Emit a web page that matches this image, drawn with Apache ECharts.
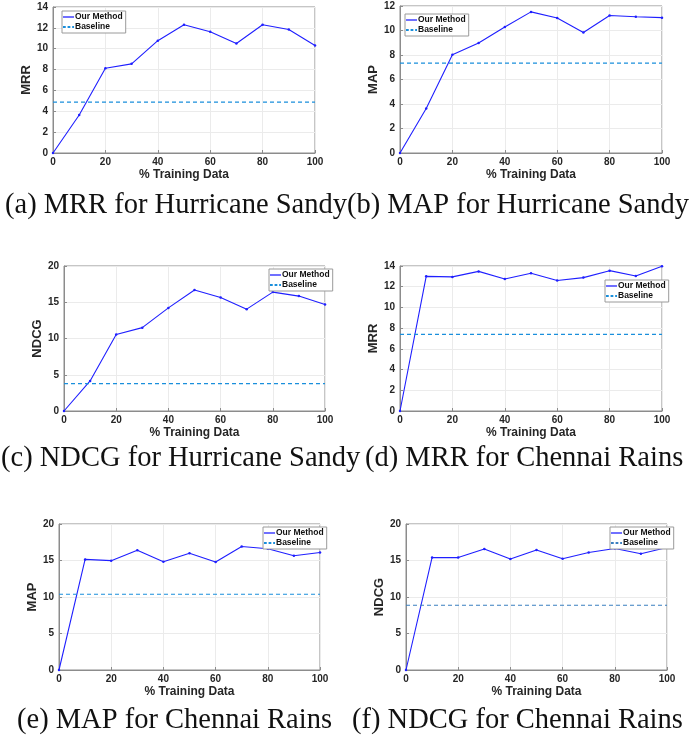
<!DOCTYPE html>
<html>
<head>
<meta charset="utf-8">
<script src="https://cdn.jsdelivr.net/npm/echarts@6/dist/echarts.min.js"></script>
<style>
  html, body { margin: 0; padding: 0; background: #fff; }
</style>
</head>
<body>
<div id="chart" style="width: 694px; height: 740px;"></div>
<script>
  // % training data
  var xData = [0, 10, 20, 30, 40, 50, 60, 70, 80, 90, 100]

  // Hurricane Sandy
  var sandyMRR = [0, 3.64, 8.13, 8.55, 10.77, 12.3, 11.62, 10.5, 12.3, 11.85, 10.3]
  var sandyMAP = [0, 3.64, 8.02, 8.98, 10.28, 11.52, 11.02, 9.84, 11.22, 11.12, 11.05]
  var sandyNDCG = [0, 4.15, 10.55, 11.5, 14.22, 16.7, 15.65, 14.05, 16.4, 15.85, 14.7]
  var sandyBase = [4.88, 7.34, 3.78]

  // Chennai Rains
  var chennaiMRR = [0, 13.0, 12.95, 13.48, 12.75, 13.3, 12.6, 12.88, 13.55, 13.04, 13.97]
  var chennaiMAP = [0, 15.15, 14.98, 16.4, 14.82, 15.98, 14.8, 16.92, 16.62, 15.66, 16.1]
  var chennaiNDCG = [0, 15.42, 15.4, 16.58, 15.2, 16.44, 15.25, 16.1, 16.65, 15.92, 16.78]
  var chennaiBase = [7.4, 10.37, 8.87]

  var captions = [
    '(a) MRR for Hurricane Sandy', '(b) MAP for Hurricane Sandy',
    '(c) NDCG for Hurricane Sandy', '(d) MRR for Chennai Rains',
    '(e) MAP for Chennai Rains', '(f) NDCG for Chennai Rains'
  ]

  var panels = [
    {name: 'MRR', data: sandyMRR, base: sandyBase[0], max: 14, step: 2},
    {name: 'MAP', data: sandyMAP, base: sandyBase[1], max: 12, step: 2},
    {name: 'NDCG', data: sandyNDCG, base: sandyBase[2], max: 20, step: 5},
    {name: 'MRR', data: chennaiMRR, base: chennaiBase[0], max: 14, step: 2},
    {name: 'MAP', data: chennaiMAP, base: chennaiBase[1], max: 20, step: 5},
    {name: 'NDCG', data: chennaiNDCG, base: chennaiBase[2], max: 20, step: 5}
  ]

  // plot boxes [left, top, width, height]
  var boxes = [
    [53, 7, 262, 146], [400, 6, 262, 147],
    [64, 266, 261, 145], [400, 266, 262, 145],
    [59, 524, 261, 146], [406, 524, 261, 146]
  ]
  // legend boxes [left, top]
  var legendPos = [[62, 11], [405, 14], [269, 269], [605, 280], [263, 527], [610, 527]]
  // caption [left, centre y]
  var captionPos = [[5, 207], [347, 207], [1, 460], [365, 460], [17, 722], [352, 722]]

  var chart = echarts.init(document.getElementById('chart'))

  var grid = [], xAxis = [], yAxis = [], series = [], legend = [], graphic = []
  var axisColor = '#8c8c8c'
  var labelStyle = {color: '#262626', fontSize: 10, fontWeight: 'bold', fontFamily: 'Liberation Sans'}
  var solidIcon = 'path://M0,0h12v2h-12z'
  var dashIcon = 'path://M0,0h3v2h-3zM5,0h3v2h-3zM10,0h2v2h-2z'

  panels.forEach(function (p, i) {
    var b = boxes[i]
    var baseColor = i === 5 ? '#3a7fc0' : '#1a8fdc'
    grid.push({left: b[0], top: b[1], width: b[2], height: b[3], show: true,
      borderColor: axisColor, borderWidth: 1, backgroundColor: '#fff'})
    xAxis.push({
      type: 'value', gridIndex: i, min: 0, max: 100, interval: 20,
      name: '% Training Data', nameLocation: 'middle', nameGap: 16,
      nameTextStyle: {color: '#262626', fontSize: 12, fontWeight: 'bold', fontFamily: 'Liberation Sans'},
      axisLine: {lineStyle: {color: axisColor}},
      axisTick: {inside: true, length: 3, lineStyle: {color: axisColor}},
      axisLabel: Object.assign({margin: 4}, labelStyle),
      splitLine: {show: true, lineStyle: {color: '#ebebeb'}}
    })
    yAxis.push({
      type: 'value', gridIndex: i, min: 0, max: p.max, interval: p.step,
      name: p.name, nameLocation: 'middle', nameGap: 12,
      nameTextStyle: {color: '#262626', fontSize: 13, fontWeight: 'bold', fontFamily: 'Liberation Sans'},
      axisLine: {show: true, lineStyle: {color: axisColor}},
      axisTick: {show: true, inside: true, length: 3, lineStyle: {color: axisColor}},
      axisLabel: Object.assign({margin: 5}, labelStyle),
      splitLine: {show: true, lineStyle: {color: '#ebebeb'}}
    })
    series.push({
      name: 'Our Method', type: 'line', xAxisIndex: i, yAxisIndex: i,
      data: xData.map(function (x, k) { return [x, p.data[k]] }),
      symbol: 'circle', symbolSize: 2.5, showSymbol: true,
      lineStyle: {color: '#1f1fff', width: 1.1},
      itemStyle: {color: '#1f1fff'},
      animation: false
    })
    series.push({
      name: 'Baseline', type: 'line', xAxisIndex: i, yAxisIndex: i,
      data: [[xData[0], p.base], [xData[xData.length - 1], p.base]],
      symbol: 'none',
      lineStyle: {color: baseColor, width: 1.1, type: [4, 3]},
      itemStyle: {color: baseColor},
      animation: false
    })
    legend.push({
      left: legendPos[i][0], top: legendPos[i][1], orient: 'vertical',
      data: [
        {name: 'Our Method', icon: solidIcon, itemStyle: {color: '#7070ff'}},
        {name: 'Baseline', icon: dashIcon, itemStyle: {color: baseColor}}
      ],
      seriesIndex: [2 * i, 2 * i + 1],
      symbolKeepAspect: false,
      backgroundColor: '#fff', borderColor: '#9a9a9a', borderWidth: 1,
      padding: [1, 3, 1, 1], itemGap: 0, itemWidth: 11, itemHeight: 2,
      textStyle: {color: '#111', fontSize: 8.5, lineHeight: 10, fontWeight: 'bold', fontFamily: 'Liberation Sans', padding: [0, 0, 0, -4]}
    })
    graphic.push({
      type: 'text', left: captionPos[i][0], top: captionPos[i][1] - 16,
      style: {text: captions[i], fill: '#111', font: '28.5px "Liberation Serif"'}
    })
  })

  chart.setOption({
    animation: false,
    grid: grid, xAxis: xAxis, yAxis: yAxis, series: series,
    legend: legend, graphic: graphic
  })
</script>
</body>
</html>
